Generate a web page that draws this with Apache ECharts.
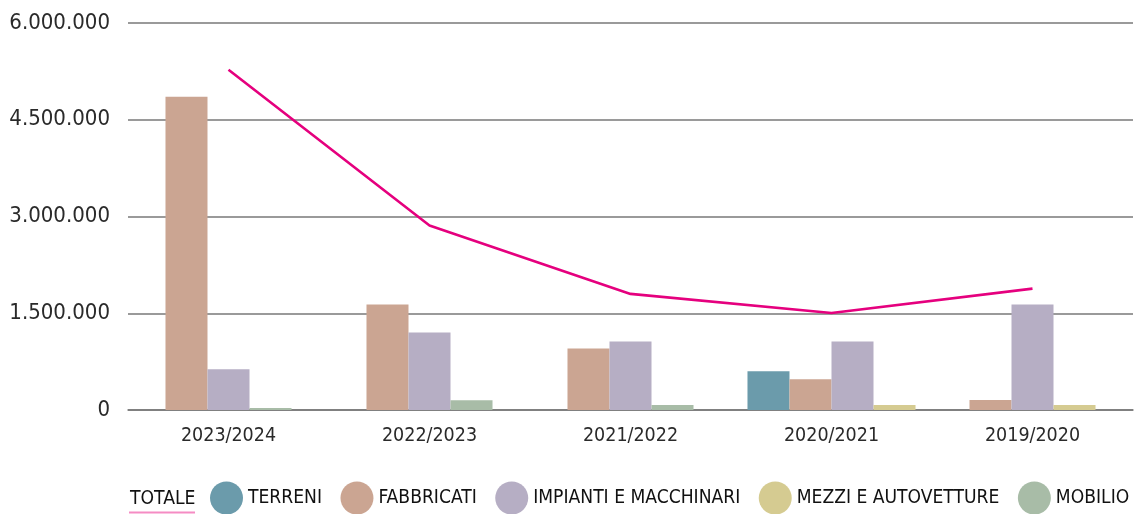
<!DOCTYPE html>
<html>
<head>
<meta charset="utf-8">
<script src="https://cdn.jsdelivr.net/npm/echarts@6/dist/echarts.min.js"></script>
<style>
  html, body { margin: 0; padding: 0; background: #fff; }
  #chart { width: 1134px; height: 514px; }
</style>
</head>
<body>
<div id="chart"></div>
<script>
// Esercizi (asse delle categorie)
const categories = ['2023/2024', '2022/2023', '2021/2022', '2020/2021', '2019/2020'];

// Investimenti per tipologia (euro)
const totale      = [5274000, 2860000, 1800000, 1505000, 1882000];
const terreni     = [0, 0, 0, 601000, 0];
const fabbricati  = [4855000, 1636000, 955000, 478000, 154000];
const impianti    = [630000, 1203000, 1063000, 1063000, 1634000];
const mezzi       = [0, 0, 0, 77000, 77000];
const mobilio     = [30000, 150000, 77000, 0, 0];

// Tacche dell'asse Y
const yTicks = [0, 1500000, 3000000, 4500000, 6000000];

const FONT = "'Liberation Sans Narrow', 'DejaVu Sans Condensed', Roboto, sans-serif";

const barSeriesDefs = [
  { name: 'TERRENI', values: terreni, color: '#6b9bab' },
  { name: 'FABBRICATI', values: fabbricati, color: '#cba592' },
  { name: 'IMPIANTI E MACCHINARI', values: impianti, color: '#b6aec4' },
  { name: 'MEZZI E AUTOVETTURE', values: mezzi, color: '#d5cb91' },
  { name: 'MOBILIO', values: mobilio, color: '#a8bca7' }
];

const BAR_FRACTION = 0.209;

// Bars of each year are packed side by side and centred, skipping empty types
function makeRenderItem(seriesIdx) {
  return function (params, api) {
    const cat = api.value(0);
    const val = api.value(1);
    const present = [];
    barSeriesDefs.forEach((d, i) => { if (d.values[cat]) present.push(i); });
    const k = present.indexOf(seriesIdx);
    const n = present.length;
    const bw = api.size([1, 0])[0] * BAR_FRACTION;
    const base = api.coord([cat, 0]);
    const top = api.coord([cat, val]);
    const x = base[0] - (n * bw) / 2 + k * bw;
    return {
      type: 'rect',
      shape: { x: x, y: top[1], width: bw, height: base[1] - top[1] },
      style: { fill: barSeriesDefs[seriesIdx].color }
    };
  };
}

function fmt(v) {
  return String(v).replace(/\B(?=(\d{3})+(?!\d))/g, '.');
}

const chart = echarts.init(document.getElementById('chart'), null, { renderer: 'canvas' });

const series = barSeriesDefs.map((d, i) => ({
  name: d.name,
  type: 'custom',
  renderItem: makeRenderItem(i),
  itemStyle: { color: d.color },
  encode: { x: 0, y: 1 },
  data: d.values.map((v, c) => [c, v]).filter(p => p[1] > 0),
  z: 2
}));

series.push({
  name: 'TOTALE',
  type: 'line',
  data: totale,
  showSymbol: false,
  symbol: 'none',
  lineStyle: { color: '#e5007e', width: 2.6 },
  itemStyle: { color: '#e5007e' },
  z: 5
});

chart.setOption({
  animation: false,
  backgroundColor: '#fff',
  grid: {
    left: 128, right: 1, top: 23, bottom: 104,
    containLabel: false,
    outerBoundsMode: 'none'
  },
  xAxis: {
    type: 'category',
    data: categories,
    boundaryGap: true,
    axisLine: { show: true, lineStyle: { color: '#787878', width: 1.5 } },
    axisTick: { show: false },
    axisLabel: { color: '#2a2a2a', fontFamily: FONT, fontSize: 19.5, margin: 16 }
  },
  yAxis: {
    type: 'value',
    min: yTicks[0],
    max: yTicks[yTicks.length - 1],
    interval: yTicks[1] - yTicks[0],
    axisLine: { show: false },
    axisTick: { show: false },
    splitLine: { lineStyle: { color: '#787878', width: 1.5 } },
    axisLabel: { color: '#2a2a2a', fontFamily: FONT, fontSize: 22, margin: 18, formatter: fmt }
  },
  legend: [
    {
      data: ['TOTALE'],
      left: 120,
      top: 485,
      itemWidth: 0,
      itemHeight: 0,
      itemGap: 0,
      icon: 'none',
      textStyle: { color: '#111', fontFamily: FONT, fontSize: 19.2 }
    },
    {
      data: barSeriesDefs.map(d => d.name),
      left: 205,
      top: 476.5,
      width: 929,
      itemWidth: 33,
      itemHeight: 33,
      itemGap: 18.5,
      icon: 'circle',
      textStyle: { color: '#111', fontFamily: FONT, fontSize: 19.1 }
    }
  ],
  graphic: [
    {
      type: 'rect',
      left: 129,
      top: 511.5,
      shape: { width: 66, height: 2 },
      style: { fill: '#f58cc4' },
      silent: true
    }
  ],
  series: series
});
</script>
</body>
</html>
